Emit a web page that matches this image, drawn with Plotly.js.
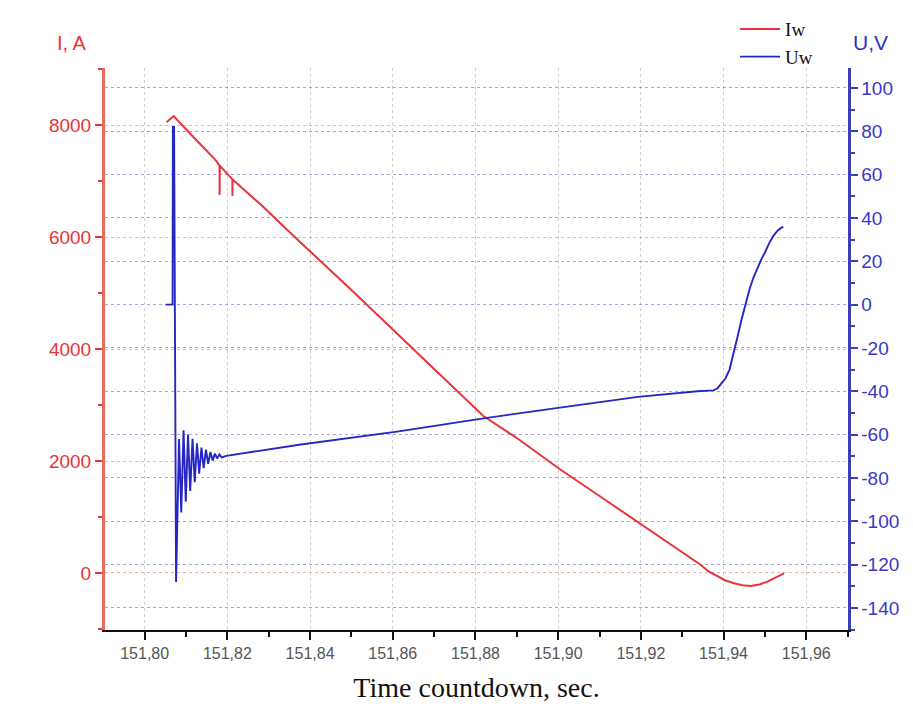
<!DOCTYPE html>
<html>
<head>
<meta charset="utf-8">
<script src="https://cdn.plot.ly/plotly-3.0.1.min.js"></script>
<style>
html,body{margin:0;padding:0;background:#fff;}
#chart{width:913px;height:706px;}
</style>
</head>
<body>
<div id="chart"></div>
<script>
// ---- Data ----
const timeI = [151.8053, 151.8070, 151.8120, 151.8170, 151.8181, 151.81812, 151.81816,
  151.8212, 151.82122, 151.82126, 151.8282, 151.8373, 151.8500, 151.8614, 151.8720,
  151.8819, 151.8900, 151.9000, 151.9100, 151.9193, 151.9280, 151.93453, 151.93639,
  151.93855, 151.94048, 151.94258, 151.94458, 151.94658, 151.94867, 151.95060, 151.95253,
  151.95463];
const Iw = [8050, 8160, 7768, 7386, 7280, 6750, 7275,
  7030, 6730, 7025, 6571, 5929, 5054, 4250, 3500,
  2804, 2411, 1875, 1375, 910, 471, 143, 27,
  -66, -134, -184, -218, -232, -205, -155, -89,
  -5];

const timeU = [151.80506, 151.80675, 151.80682, 151.80711, 151.80759,
  151.80831, 151.80884, 151.80940, 151.80993, 151.81048, 151.81101, 151.81157, 151.81210,
  151.81265, 151.81318, 151.81373, 151.81427, 151.81482, 151.81535, 151.81590, 151.81643,
  151.81699, 151.81752, 151.81807, 151.81860, 151.81976,
  151.82771, 151.83735, 151.86145, 151.88193, 151.90000, 151.91928, 151.93373, 151.93759,
  151.93855, 151.93952, 151.94048, 151.94145, 151.94241, 151.94337, 151.94434, 151.94530,
  151.94627, 151.94723, 151.94819, 151.94916, 151.95012, 151.95108, 151.95205, 151.95301,
  151.95398, 151.95446];
const Uw = [0, 0, 82, 82, -128,
  -62, -96, -58, -91, -60, -86, -62, -82,
  -64, -78, -66, -75.5, -67, -73.5, -68, -72,
  -68.8, -71, -69.2, -70.5, -69.8,
  -67.5, -64.7, -58.5, -52.5, -47.7, -42.6, -40, -39.6,
  -38.6, -36.5, -34, -30, -23, -15, -7, 0.5,
  7, 12.5, 17, 21, 24.5, 28.5, 31.7, 34,
  35.5, 35.8];

const xTicks = [151.80, 151.82, 151.84, 151.86, 151.88, 151.90, 151.92, 151.94, 151.96];
const iTicks = [0, 2000, 4000, 6000, 8000];
const uTicks = [100, 80, 60, 40, 20, 0, -20, -40, -60, -80, -100, -120, -140];
const uTickText = ['100', '80', '60', '40', '20', '0', '-20', '-40', '-60', '-80', '-100', '-120', '-140'];

const RED = '#e8343a';
const BLUE = '#2626c4';

const traces = [
  {x: timeI, y: Iw, name: 'Iw', type: 'scatter', mode: 'lines',
   line: {color: RED, width: 2, shape: 'linear'}, yaxis: 'y'},
  {x: timeU, y: Uw, name: 'Uw', type: 'scatter', mode: 'lines',
   line: {color: BLUE, width: 1.9}, yaxis: 'y2'}
];

const layout = {
  width: 913, height: 706,
  margin: {l: 105, r: 65, t: 68, b: 76, autoexpand: false},
  paper_bgcolor: '#fff', plot_bgcolor: '#fff',
  separators: ', ',
  font: {family: 'Liberation Sans, Arial, sans-serif'},
  showlegend: true,
  legend: {x: 0.848, y: 1.103, xanchor: 'left', yanchor: 'top',
    bgcolor: 'rgba(0,0,0,0)', font: {family: 'Liberation Serif, Times New Roman, serif', size: 19, color: '#111'},
    tracegroupgap: 0, itemwidth: 40},
  xaxis: {
    range: [151.7904, 151.9701], tickvals: xTicks, tickformat: '.2f',
    showline: true, linecolor: '#111', linewidth: 2,
    ticks: 'outside', ticklen: 8, tickwidth: 2, tickcolor: '#111',
    tickfont: {size: 16, color: '#555'},
    minor: {dtick: 0.01, tick0: 151.80, ticks: 'outside', ticklen: 5, tickwidth: 2, tickcolor: '#111', showgrid: false},
    showgrid: true, gridcolor: 'rgba(170,170,170,0.55)', griddash: 'dot', gridwidth: 1,
    zeroline: false,
    title: {text: 'Time countdown, sec.', font: {family: 'Liberation Serif, Times New Roman, serif', size: 28, color: '#111'}, standoff: 16}
  },
  yaxis: {
    range: [-1018, 9018], tickvals: iTicks,
    showline: true, linecolor: '#ea6a5e', linewidth: 3,
    ticks: 'outside', ticklen: 7, tickwidth: 2, tickcolor: RED,
    tickfont: {size: 19, color: RED},
    minor: {dtick: 1000, tick0: 0, ticks: 'outside', ticklen: 4, tickwidth: 2, tickcolor: RED, showgrid: false},
    showgrid: true, gridcolor: 'rgba(235,120,130,0.6)', griddash: 'dot', gridwidth: 1,
    zeroline: false
  },
  yaxis2: {
    overlaying: 'y', side: 'right',
    range: [-150.2, 109.2], tickvals: uTicks, ticktext: uTickText,
    showline: true, linecolor: '#3d3dbb', linewidth: 2.5,
    ticks: 'outside', ticklen: 7, tickwidth: 2, tickcolor: '#3d3dbb',
    tickfont: {size: 19, color: '#3838c8'},
    minor: {dtick: 10, tick0: 0, ticks: 'outside', ticklen: 4, tickwidth: 2, tickcolor: '#3d3dbb', showgrid: false},
    showgrid: true, gridcolor: 'rgba(90,90,190,0.55)', griddash: 'dot', gridwidth: 1,
    zeroline: false
  },
  annotations: [
    {text: 'I, A', xref: 'paper', yref: 'paper', x: -0.044, y: 1.021, xanchor: 'center', yanchor: 'bottom',
     showarrow: false, font: {size: 20, color: RED}},
    {text: 'U,V', xref: 'paper', yref: 'paper', x: 1.03, y: 1.021, xanchor: 'center', yanchor: 'bottom',
     showarrow: false, font: {size: 21, color: '#3030c0'}}
  ]
};

Plotly.newPlot('chart', traces, layout, {displayModeBar: false, staticPlot: true});
</script>
</body>
</html>
